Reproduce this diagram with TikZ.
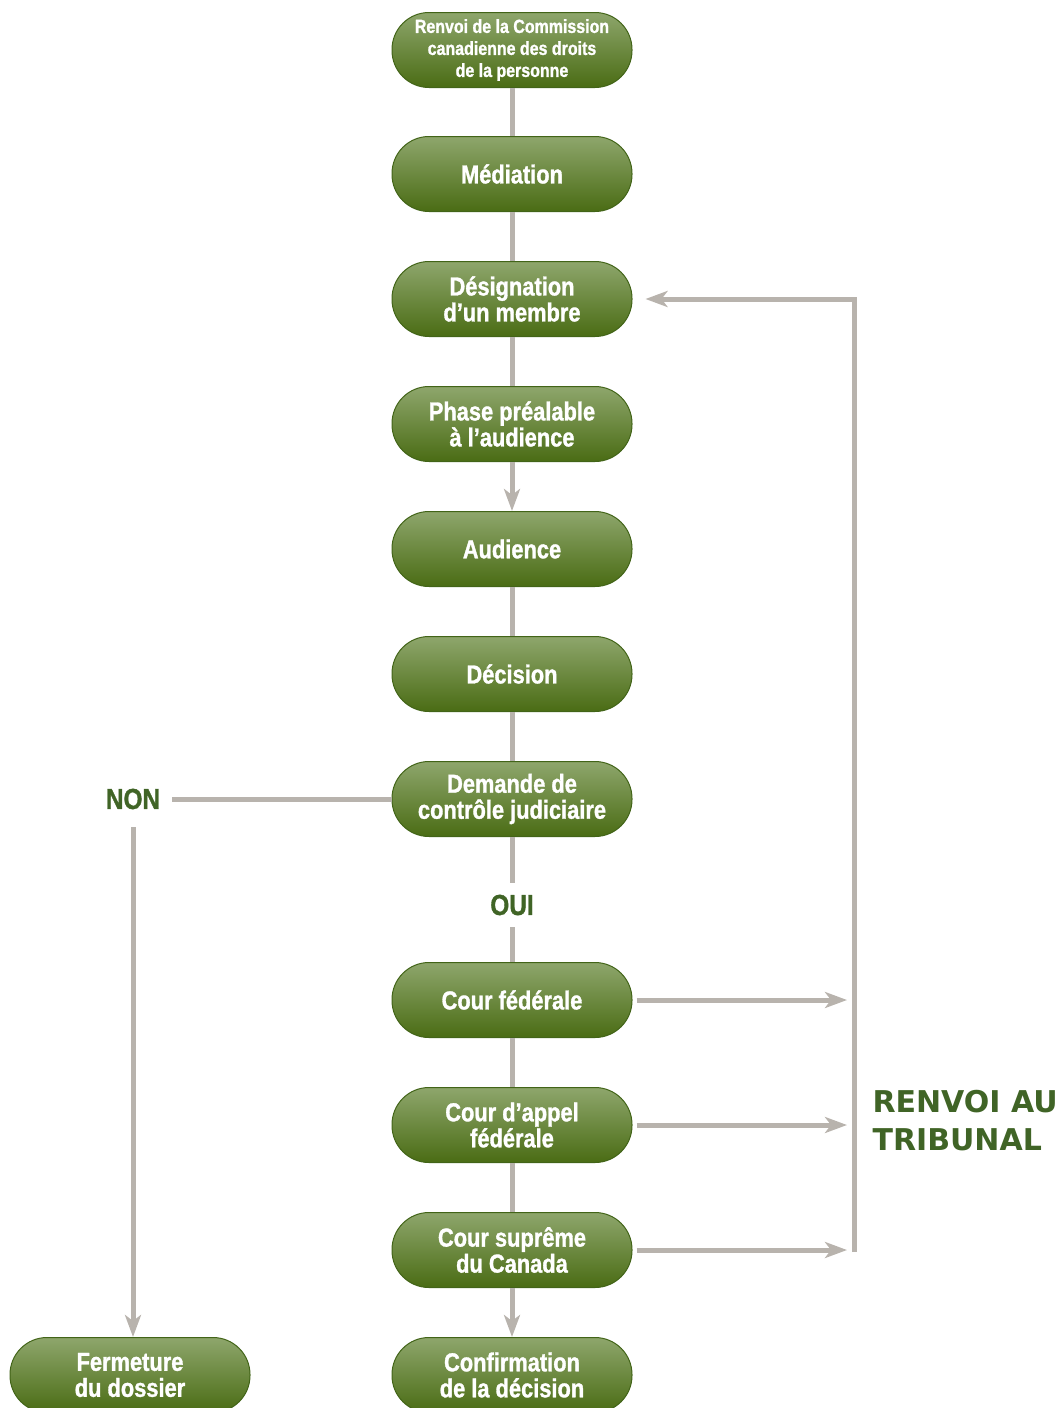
\documentclass[tikz,border=0pt]{standalone}
\usepackage{fontspec}
\usepackage{tikz}
\usetikzlibrary{arrows.meta}
\newfontfamily\pillfont[FakeStretch=0.84,FakeBold=1.2]{Liberation Sans}
\newfontfamily\widefont{DejaVu Sans}
\definecolor{pillborder}{RGB}{66,100,24}
\definecolor{pilltop}{RGB}{142,166,108}
\definecolor{pillmid}{RGB}{86,122,38}
\definecolor{pillbot}{RGB}{74,108,20}
\definecolor{linkgray}{RGB}{184,179,173}
\definecolor{labgreen}{RGB}{64,100,38}

\begin{document}
\begin{tikzpicture}[x=1pt,y=1pt,
	pill/.style={draw=pillborder, line width=1pt, rounded corners=37pt,
		top color=pilltop, middle color=pillmid, bottom color=pillbot,
		minimum width=240pt, minimum height=75pt, inner sep=2pt,
		text=white, align=center,
		font=\pillfont\fontsize{26}{26}\selectfont\bfseries},
	link/.style={draw=linkgray, line width=5pt},
	tip/.style={link, -{Stealth[length=22pt,width=16pt,inset=6pt]}},
	lab/.style={text=labgreen, inner sep=12pt,
		font=\pillfont\fontsize{29}{29}\selectfont\bfseries}]
	\useasboundingbox (0,0) rectangle (1060,-1408);
	% main column
	\node[pill, font=\pillfont\fontsize{19}{22}\selectfont\bfseries] (renv) at (512,-50)
		{Renvoi de la Commission\\canadienne des droits\\de la personne};
	\node[pill] (med) at (512,-174) {Médiation};
	\node[pill] (desig) at (512,-299) {Désignation\\d’un membre};
	\node[pill] (phase) at (512,-424) {Phase préalable\\à l’audience};
	\node[pill] (aud) at (512,-549) {Audience};
	\node[pill] (dec) at (512,-674) {Décision};
	\node[pill] (dem) at (512,-799) {Demande de\\contrôle judiciaire};
	\node[lab] (oui) at (512,-905) {OUI};
	\node[pill] (cfed) at (512,-1000) {Cour fédérale};
	\node[pill] (capp) at (512,-1125) {Cour d’appel\\fédérale};
	\node[pill] (csup) at (512,-1250) {Cour suprême\\du Canada};
	\node[pill] (conf) at (512,-1375) {Confirmation\\de la décision};
	% left branch
	\node[lab] (non) at (133,-799) {NON};
	\node[pill] (ferm) at (130,-1375) {Fermeture\\du dossier};
	% right branch
	\coordinate (rbot) at (854,-1252);
	\node[text=labgreen, anchor=west, align=left,
		font=\widefont\fontsize{30}{38}\selectfont\bfseries] (trib) at (869,-1121)
		{RENVOI AU\\TRIBUNAL};

	\draw[link] (renv) -- (med);
	\draw[link] (med) -- (desig);
	\draw[link] (desig) -- (phase);
	\draw[tip] (phase) -- (aud);
	\draw[link] (aud) -- (dec);
	\draw[link] (dec) -- (dem);
	\draw[link] (dem) -- (oui);
	\draw[link] (oui) -- (cfed);
	\draw[link] (cfed) -- (capp);
	\draw[link] (capp) -- (csup);
	\draw[tip] (csup) -- (conf);
	\draw[link] (dem) -- (non);
	\draw[tip, shorten <=6pt] (non.south) -- (non.south |- ferm.north);
	\draw[tip, shorten >=13pt] (rbot) -- (rbot |- desig.east) -- (desig.east);
	\draw[tip, shorten <=4pt, shorten >=7pt] (cfed.east) -- (cfed.east -| rbot);
	\draw[tip, shorten <=4pt, shorten >=7pt] (capp.east) -- (capp.east -| rbot);
	\draw[tip, shorten <=4pt, shorten >=7pt] (csup.east) -- (csup.east -| rbot);
\end{tikzpicture}
\end{document}
